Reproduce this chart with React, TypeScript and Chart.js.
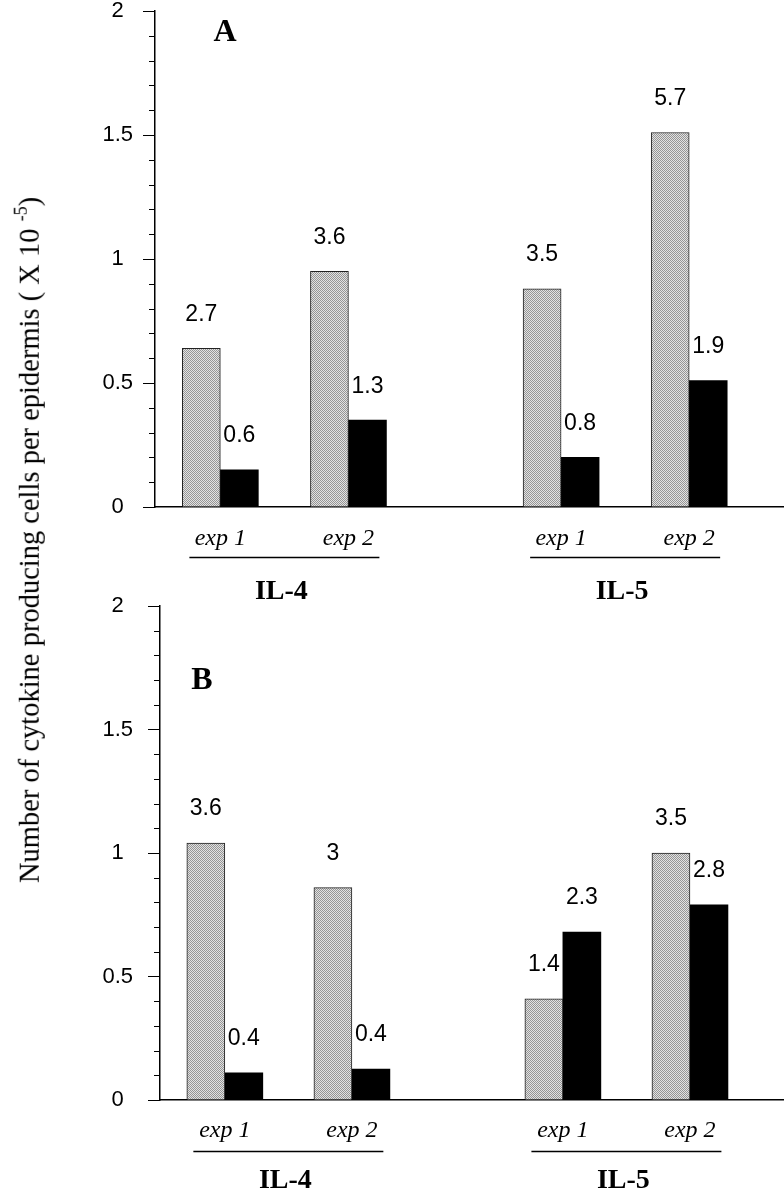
import React, { useEffect, useRef } from 'react';
import { Chart, registerables } from 'chart.js';

Chart.register(...registerables);

// ---------------- data ----------------
const expLabels = ['exp 1', 'exp 2', 'exp 1', 'exp 2'];
const expPositions = [1, 2, 3.66, 4.66];
const groupLabels = ['IL-4', 'IL-5'];
const groupMembers = [[0, 1], [2, 3]];

const panelAGray = [0.64, 0.95, 0.88, 1.51];
const panelABlack = [0.15, 0.35, 0.2, 0.51];
const panelAGrayText = ['2.7', '3.6', '3.5', '5.7'];
const panelABlackText = ['0.6', '1.3', '0.8', '1.9'];

const panelBGray = [1.04, 0.86, 0.41, 1.0];
const panelBBlack = [0.11, 0.125, 0.68, 0.79];
const panelBGrayText = ['3.6', '3', '1.4', '3.5'];
const panelBBlackText = ['0.4', '0.4', '2.3', '2.8'];

const yMin = 0;
const yMax = 2;
const yMajorStep = 0.5;
const yMinorStep = 0.1;
const xMin = 0.49;
const xMax = 5.4;

const yTitleMain = 'Number of cytokine producing cells per epidermis ( X 10 ';
const yTitleSup = '-5';
const yTitleEnd = ')';

// ---------------- layout ----------------
const W = 784;
const panels = [
  { letter: 'A', gray: panelAGray, black: panelABlack, grayText: panelAGrayText, blackText: panelABlackText,
    top: 0, height: 615, axisX: 155, plotTop: 11, plotBottom: 507, letterDx: 70, letterDy: 22, tickPad: 10,
    expPad: 17, lineDy: 50, groupDy: 85 },
  { letter: 'B', gray: panelBGray, black: panelBBlack, grayText: panelBGrayText, blackText: panelBBlackText,
    top: 590, height: 609, axisX: 160, plotTop: 606, plotBottom: 1100, letterDx: 42, letterDy: 75, tickPad: 15,
    expPad: 16, lineDy: 51, groupDy: 81 },
];

const SERIF = "'Liberation Serif', 'Times New Roman', serif";
const SANS = "'Liberation Sans', Arial, sans-serif";

function makeStipple(): CanvasPattern | string {
  const c = document.createElement('canvas');
  c.width = 2;
  c.height = 2;
  const g = c.getContext('2d');
  if (!g) return '#b8b8b8';
  g.fillStyle = '#e2e2e2';
  g.fillRect(0, 0, 2, 2);
  g.fillStyle = '#959595';
  g.fillRect(0, 0, 1, 1);
  g.fillRect(1, 1, 1, 1);
  return g.createPattern(c, 'repeat') || '#b8b8b8';
}

const decorPlugin = {
  id: 'decor',
  afterDraw(chart: any) {
    const { ctx, chartArea, scales } = chart;
    const cfg = chart.options.plugins.decor;
    const x = scales.x;
    const y = scales.y;
    ctx.save();
    // minor ticks on the y axis
    ctx.strokeStyle = '#000';
    ctx.lineWidth = 1;
    const n = Math.round((yMax - yMin) / yMinorStep);
    for (let i = 0; i <= n; i++) {
      const v = yMin + i * yMinorStep;
      const r = v / yMajorStep;
      if (Math.abs(r - Math.round(r)) < 1e-6) continue;
      const py = Math.round(y.getPixelForValue(v)) + 0.5;
      ctx.beginPath();
      ctx.moveTo(chartArea.left - 6, py);
      ctx.lineTo(chartArea.left, py);
      ctx.stroke();
    }
    // value labels above bars
    ctx.fillStyle = '#000';
    ctx.textAlign = 'center';
    ctx.textBaseline = 'middle';
    ctx.font = `23px ${SANS}`;
    chart.data.datasets.forEach((ds: any, di: number) => {
      const meta = chart.getDatasetMeta(di);
      meta.data.forEach((el: any, j: number) => {
        ctx.fillText(ds.valueText[j], el.x, el.y - 34);
      });
    });
    // group underline + group labels
    groupMembers.forEach((m, g) => {
      const cx = (x.getPixelForValue(expPositions[m[0]]) + x.getPixelForValue(expPositions[m[m.length - 1]])) / 2;
      const ly = Math.round(chartArea.bottom + cfg.lineDy) + 0.5;
      ctx.lineWidth = 1.5;
      ctx.beginPath();
      ctx.moveTo(cx - 95, ly);
      ctx.lineTo(cx + 95, ly);
      ctx.stroke();
      ctx.font = `bold 28px ${SERIF}`;
      ctx.fillText(groupLabels[g], cx - 3, chartArea.bottom + cfg.groupDy);
    });
    // panel letter
    ctx.font = `bold 32px ${SERIF}`;
    ctx.fillText(cfg.letter, chartArea.left + cfg.letterDx, chartArea.top + cfg.letterDy);
    ctx.restore();
  },
};

function Panel({ p }: { p: typeof panels[number] }) {
  const ref = useRef<HTMLCanvasElement | null>(null);
  useEffect(() => {
    if (!ref.current) return;
    const stipple = makeStipple();
    const chart = new Chart(ref.current, {
      type: 'bar',
      data: {
        datasets: [
          {
            data: expPositions.map((xv, i) => ({ x: xv, y: p.gray[i] })),
            backgroundColor: stipple as any,
            borderColor: '#222',
            borderWidth: 1,
            valueText: p.grayText,
          } as any,
          {
            data: expPositions.map((xv, i) => ({ x: xv, y: p.black[i] })),
            backgroundColor: '#000',
            borderWidth: 0,
            valueText: p.blackText,
          } as any,
        ],
      },
      options: {
        responsive: false,
        animation: false,
        devicePixelRatio: 1,
        layout: { padding: { top: p.plotTop - p.top, right: 0, left: 0, bottom: 0 } },
        datasets: { bar: { grouped: true, barThickness: 38 } },
        plugins: {
          legend: { display: false },
          tooltip: { enabled: false },
          decor: { letter: p.letter, letterDx: p.letterDx, letterDy: p.letterDy, lineDy: p.lineDy, groupDy: p.groupDy },
        } as any,
        scales: {
          x: {
            type: 'linear',
            min: xMin,
            max: xMax,
            offset: false,
            afterBuildTicks: (s: any) => {
              s.ticks = expPositions.map((v) => ({ value: v }));
            },
            afterFit: (s: any) => {
              s.height = p.top + p.height - p.plotBottom;
              s.paddingLeft = 0;
              s.paddingRight = 0;
            },
            grid: { display: false, drawTicks: false, offset: false },
            border: { display: true, color: '#000', width: 1.5 },
            ticks: {
              autoSkip: false,
              maxRotation: 0,
              minRotation: 0,
              padding: p.expPad,
              color: '#000',
              font: { family: SERIF, style: 'italic', size: 24 },
              callback: (_v: any, i: number) => expLabels[i],
            },
          },
          y: {
            type: 'linear',
            min: yMin,
            max: yMax,
            afterFit: (s: any) => {
              s.width = p.axisX;
              s.paddingTop = 0;
              s.paddingBottom = 0;
            },
            grid: { display: true, drawOnChartArea: false, drawTicks: true, tickLength: 12, tickColor: '#000', tickWidth: 1 },
            border: { display: true, color: '#000', width: 1.5 },
            ticks: {
              stepSize: yMajorStep,
              padding: p.tickPad,
              crossAlign: 'center',
              color: '#000',
              font: { family: SANS, size: 22 },
              callback: (v: any) => String(Number(v)),
            },
          },
        },
      } as any,
      plugins: [decorPlugin],
    });
    return () => chart.destroy();
  }, [p]);
  return (
    <canvas
      ref={ref}
      width={W}
      height={p.height}
      style={{ position: 'absolute', left: 0, top: p.top, width: W, height: p.height }}
    />
  );
}

export default function App() {
  return (
    <div style={{ position: 'absolute', left: 0, top: 0, width: W, height: 1199, background: '#fff', overflow: 'hidden' }}>
      {panels.map((p) => (
        <Panel key={p.letter} p={p} />
      ))}
      <div style={{ position: 'absolute', left: 30, top: 540, width: 0, height: 0 }}>
        <span
          style={{
            position: 'absolute',
            left: 0,
            top: 0,
            transform: 'translate(-50%, -50%) rotate(-90deg)',
            whiteSpace: 'nowrap',
            fontFamily: SERIF,
            fontSize: 28.5,
            color: '#000',
            lineHeight: 1,
          }}
        >
          {yTitleMain}
          <sup style={{ fontSize: 18, verticalAlign: 'top', position: 'relative', top: -4 }}>{yTitleSup}</sup>
          {yTitleEnd}
        </span>
      </div>
    </div>
  );
}
